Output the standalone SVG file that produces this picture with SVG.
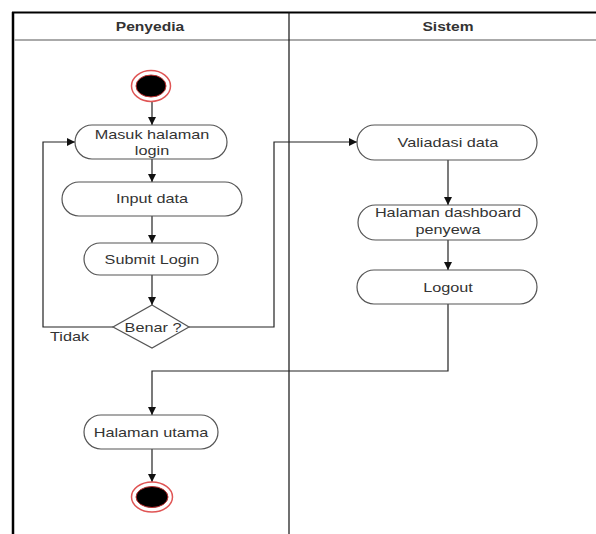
<svg xmlns="http://www.w3.org/2000/svg" width="596" height="534" viewBox="0 0 596 534">
<style>
.t{font-family:"Liberation Sans",Arial,sans-serif;font-size:12.5px;fill:#333;}
.h{font-family:"Liberation Sans",Arial,sans-serif;font-size:12px;font-weight:bold;fill:#333;}
.node{fill:#fff;stroke:#555;stroke-width:1.2;}
.c{fill:none;stroke:#222;stroke-width:1.2;}
</style>
<defs>
<marker id="arr" markerUnits="userSpaceOnUse" markerWidth="10" markerHeight="10" refX="8" refY="4" orient="auto">
<path d="M0,0 L8,4 L0,8 Z" fill="#111"/>
</marker>
</defs>
<rect width="596" height="534" fill="#fff"/>
<g id="pool">
<line x1="12" y1="12.5" x2="596" y2="12.5" stroke="#000" stroke-width="2"/>
<line x1="13" y1="12" x2="13" y2="534" stroke="#000" stroke-width="2.5"/>
<line x1="14" y1="40" x2="596" y2="40" stroke="#aaa" stroke-width="2"/>
<line x1="289" y1="12" x2="289" y2="534" stroke="#111" stroke-width="1.2"/>
<text class="h" text-anchor="middle" transform="translate(150,31) scale(1.3,1)">Penyedia</text>
<text class="h" text-anchor="middle" transform="translate(448,31) scale(1.3,1)">Sistem</text>
</g>
<g id="connectors">
<line class="c" x1="152" y1="102" x2="152" y2="125" marker-end="url(#arr)"/>
<line class="c" x1="152" y1="159" x2="152" y2="182" marker-end="url(#arr)"/>
<line class="c" x1="152" y1="216" x2="152" y2="243" marker-end="url(#arr)"/>
<line class="c" x1="152" y1="275" x2="152" y2="305" marker-end="url(#arr)"/>
<polyline class="c" points="113,327 43,327 43,142 75,142" marker-end="url(#arr)"/>
<polyline class="c" points="189,327 274,327 274,142 357,142" marker-end="url(#arr)"/>
<line class="c" x1="448" y1="160" x2="448" y2="205" marker-end="url(#arr)"/>
<line class="c" x1="448" y1="240" x2="448" y2="270" marker-end="url(#arr)"/>
<polyline class="c" points="448,304 448,371 152,371 152,415" marker-end="url(#arr)"/>
<line class="c" x1="152" y1="449" x2="152" y2="482" marker-end="url(#arr)"/>
<text class="t" transform="translate(50,341) scale(1.3,1)">Tidak</text>
</g>
<g id="start">
<ellipse cx="151" cy="86" rx="19.5" ry="15.5" fill="#fff" stroke="#e05555" stroke-width="1.5"/>
<ellipse cx="151" cy="86" rx="15" ry="11" fill="#000" stroke="#c03030" stroke-width="1"/>
</g>
<g id="masuk">
<rect class="node" x="75" y="125" width="152" height="34" rx="17"/>
<text class="t" text-anchor="middle" transform="translate(152,139) scale(1.3,1)">Masuk halaman</text>
<text class="t" text-anchor="middle" transform="translate(152,155) scale(1.3,1)">login</text>
</g>
<g id="input">
<rect class="node" x="62" y="182" width="180" height="34" rx="17"/>
<text class="t" text-anchor="middle" transform="translate(152,203) scale(1.3,1)">Input data</text>
</g>
<g id="submit">
<rect class="node" x="84" y="243" width="134" height="32" rx="16"/>
<text class="t" text-anchor="middle" transform="translate(152,263.5) scale(1.3,1)">Submit Login</text>
</g>
<g id="benar">
<polygon points="152,305 189,327 152,348 113,327" fill="#fff" stroke="#555" stroke-width="1.2"/>
<text class="t" text-anchor="middle" transform="translate(153,331.5) scale(1.3,1)">Benar ?</text>
</g>
<g id="validasi">
<rect class="node" x="357" y="125" width="180" height="35" rx="17.5"/>
<text class="t" text-anchor="middle" transform="translate(448,146.5) scale(1.3,1)">Valiadasi data</text>
</g>
<g id="dashboard">
<rect class="node" x="358" y="205" width="179" height="35" rx="17.5"/>
<text class="t" text-anchor="middle" transform="translate(448,216.5) scale(1.3,1)">Halaman dashboard</text>
<text class="t" text-anchor="middle" transform="translate(448,233.5) scale(1.3,1)">penyewa</text>
</g>
<g id="logout">
<rect class="node" x="357" y="270" width="180" height="34" rx="17"/>
<text class="t" text-anchor="middle" transform="translate(448,291.5) scale(1.3,1)">Logout</text>
</g>
<g id="utama">
<rect class="node" x="84" y="415" width="134" height="34" rx="17"/>
<text class="t" text-anchor="middle" transform="translate(151,436.5) scale(1.3,1)">Halaman utama</text>
</g>
<g id="end">
<ellipse cx="152" cy="497" rx="20.5" ry="15" fill="#fff" stroke="#e05555" stroke-width="1.5"/>
<ellipse cx="152" cy="497" rx="16" ry="10.5" fill="#000" stroke="#c03030" stroke-width="1"/>
</g>
</svg>
